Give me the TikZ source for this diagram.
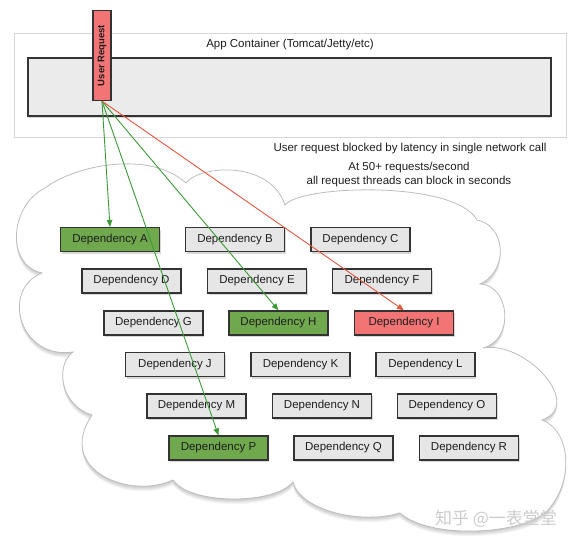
\documentclass[tikz,border=0pt]{standalone}
\usepackage{fontspec}
\setmainfont{Liberation Sans}
\newfontfamily\cjkfont{Noto Sans CJK SC}
\usetikzlibrary{arrows.meta, shadows}

\definecolor{boxgray}{HTML}{E6E6E6}
\definecolor{boxline}{HTML}{333333}
\definecolor{okgreen}{HTML}{70A84E}
\definecolor{badred}{HTML}{F27474}
\definecolor{arrgreen}{HTML}{3C9A36}
\definecolor{arrred}{HTML}{E2573E}
\definecolor{framegray}{HTML}{D6D6D6}
\definecolor{cloudline}{HTML}{BDBDBD}
\definecolor{txt}{HTML}{1E1E1E}

\newcommand{\cloudpath}{(42,273) .. controls (5,265) and (10,205) .. (45,188)
  .. controls (75,165) and (150,150) .. (186,183)
  .. controls (200,165) and (270,160) .. (285,205)
  .. controls (300,185) and (455,180) .. (477,220)
  .. controls (505,225) and (510,270) .. (480,284)
  .. controls (510,285) and (515,340) .. (483,348)
  .. controls (525,340) and (585,405) .. (542,420)
  .. controls (570,430) and (575,480) .. (548,510)
  .. controls (525,535) and (430,540) .. (400,513)
  .. controls (360,525) and (300,510) .. (293,482)
  .. controls (275,505) and (190,505) .. (173,480)
  .. controls (130,500) and (55,470) .. (92,415)
  .. controls (60,405) and (55,365) .. (73,352)
  .. controls (20,360) and (0,290) .. (42,273) -- cycle}

\begin{document}
\begin{tikzpicture}[
  x=1pt, y=-1pt,
  dep/.style={rectangle, draw=boxline, fill=boxgray, line width=1.2pt,
    minimum width=99pt, minimum height=24pt, inner sep=0pt,
    font=\fontsize{11.5}{13}\selectfont, text=txt,
    drop shadow={shadow xshift=1pt, shadow yshift=-2pt, opacity=0.3}},
  depok/.style={dep, fill=okgreen},
  depbad/.style={dep, fill=badred},
  lbl/.style={font=\fontsize{11.5}{14}\selectfont, text=txt, align=center},
  arrok/.style={-{Triangle[length=7pt,width=5.5pt]}, line width=0.9pt, arrgreen},
  arrbad/.style={-{Triangle[length=7pt,width=5.5pt]}, line width=0.9pt, arrred},
]
\useasboundingbox (0,0) rectangle (574,543);

% app container
\node[draw=framegray, fill=white, minimum width=552pt, minimum height=104pt,
  inner sep=0pt] (frame) at (290,85) {};
\node[draw=boxline, fill=boxgray!80!white, line width=1.2pt, minimum width=523pt,
  minimum height=58pt, inner sep=0pt,
  drop shadow={shadow xshift=0pt, shadow yshift=-2pt, opacity=0.3}] (bar) at (289.5,87) {};
\node[lbl] (applbl) at (290,45) {App Container (Tomcat/Jetty/etc)};
\node[draw=boxline, fill=badred, line width=1.2pt, minimum width=18pt,
  minimum height=90pt, inner sep=0pt, text=txt,
  font=\fontsize{9.5}{11}\selectfont\bfseries] (req) at (102,55.5) {\rotatebox{90}{User Request}};

\node[lbl] (blocked) at (410,149) {User request blocked by latency in single network call};
\node[lbl] (rate) at (409,175) {At 50+ requests/second\\all request threads can block in seconds};

% cloud, soft shadow first
\foreach \s in {1,...,5}
  \fill[black, opacity=0.045, yshift=-\s pt] \cloudpath;
\draw[cloudline, fill=white, line width=0.8pt] \cloudpath;

% dependencies
\node[depok] (depA) at (110,239.5) {Dependency A};
\node[dep] (depB) at (235,239.5) {Dependency B};
\node[dep] (depC) at (360.5,239.5) {Dependency C};
\node[dep] (depD) at (131.5,281) {Dependency D};
\node[dep] (depE) at (257,281) {Dependency E};
\node[dep] (depF) at (382,281) {Dependency F};
\node[dep] (depG) at (153.5,323) {Dependency G};
\node[depok] (depH) at (278.5,323) {Dependency H};
\node[depbad] (depI) at (404,323) {Dependency I};
\node[dep] (depJ) at (175,364.5) {Dependency J};
\node[dep] (depK) at (300.5,364.5) {Dependency K};
\node[dep] (depL) at (425.5,364.5) {Dependency L};
\node[dep] (depM) at (196.5,406) {Dependency M};
\node[dep] (depN) at (322,406) {Dependency N};
\node[dep] (depO) at (447,406) {Dependency O};
\node[depok] (depP) at (218.5,448) {Dependency P};
\node[dep] (depQ) at (343.5,448) {Dependency Q};
\node[dep] (depR) at (469,448) {Dependency R};

% calls
\draw[arrok] (req.south) -- (depA.north);
\draw[arrok] (req.south) -- (depH.north);
\draw[arrok] (req.south) -- (depP.north);
\draw[arrbad] (req.south) -- (depI.north);

\node[font={\cjkfont\fontsize{17}{17}\selectfont}, text=black!20] (mark) at (496,519) {知乎 @一表堂堂};

\end{tikzpicture}
\end{document}
